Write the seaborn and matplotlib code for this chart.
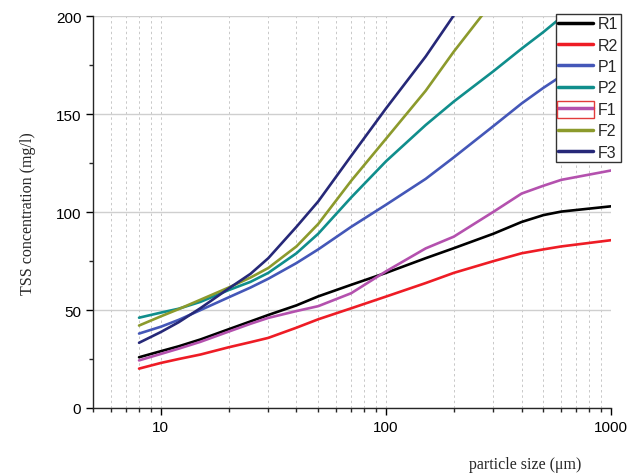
import numpy as np
import pandas as pd
import seaborn as sns
import matplotlib.pyplot as plt
from matplotlib.ticker import LogLocator, NullFormatter, MultipleLocator, FixedLocator, FixedFormatter
from matplotlib.patches import Rectangle

# particle size (um) 와 각 시료의 TSS 농도
size = [8, 10, 12, 15, 20, 25, 30, 40, 50, 70, 100, 150, 200, 300, 400, 500, 600, 1000]
R1 = [25.9, 29.0, 31.5, 35.0, 40.2, 44.2, 47.5, 52.4, 57.0, 62.9, 69.0, 76.5, 81.6, 89.0, 95.0, 98.5, 100.3, 103.0]
R2 = [20.1, 23.0, 25.0, 27.3, 31.0, 33.6, 35.8, 41.0, 45.3, 50.9, 56.9, 63.8, 69.0, 75.0, 79.0, 81.0, 82.5, 85.7]
P1 = [38.0, 41.5, 45.0, 50.0, 56.5, 61.5, 66.0, 74.0, 81.0, 92.5, 103.8, 117.0, 128.0, 144.0, 155.5, 163.5, 169.5, 182.0]
P2 = [46.1, 48.7, 50.7, 54.2, 60.2, 64.4, 69.0, 79.0, 89.0, 107.5, 126.0, 144.5, 156.5, 172.0, 183.5, 192.0, 199.5, 212.0]
F1 = [24.3, 27.6, 30.3, 33.8, 39.0, 43.0, 46.0, 49.5, 52.0, 58.6, 69.8, 81.5, 87.5, 100.2, 109.5, 113.5, 116.5, 121.3]
F2 = [42.1, 46.8, 50.5, 55.3, 61.5, 66.6, 71.5, 82.5, 94.0, 116.0, 137.5, 162.0, 182.0, 208.0, np.nan, np.nan, np.nan, np.nan]
F3 = [33.3, 38.8, 43.8, 51.0, 61.0, 68.5, 76.5, 92.5, 105.5, 128.7, 153.0, 179.5, 200.5, np.nan, np.nan, np.nan, np.nan, np.nan]

names = ['R1', 'R2', 'P1', 'P2', 'F1', 'F2', 'F3']
series = [R1, R2, P1, P2, F1, F2, F3]
colors = ['#000000', '#ee1c25', '#4457b8', '#108e8c', '#b451ae', '#8c9a2c', '#262878']

rows = []
for n, vals in zip(names, series):
    for x, v in zip(size, vals):
        if not np.isnan(v):
            rows.append({'size': x, 'tss': v, 'sample': n})
df = pd.DataFrame(rows)

sns.set_style('ticks')
plt.rcParams['font.family'] = ['Liberation Sans', 'DejaVu Sans']

fig = plt.figure(figsize=(6.42, 4.77), dpi=100)
ax = fig.add_axes([0.145, 0.1426, 0.807, 0.821])

sns.lineplot(data=df, x='size', y='tss', hue='sample', hue_order=names,
             palette=dict(zip(names, colors)), linewidth=1.9, ax=ax, zorder=3)
handles, labels = ax.get_legend_handles_labels()
ax.get_legend().remove()

ax.set_xscale('log')
ax.set_xlim(5, 1000)
ax.set_ylim(0, 200)

# x축 눈금
ax.xaxis.set_major_locator(FixedLocator([10, 100, 1000]))
ax.xaxis.set_major_formatter(FixedFormatter(['10', '100', '1000']))
ax.xaxis.set_minor_locator(LogLocator(base=10, subs=np.arange(2, 10)))
ax.xaxis.set_minor_formatter(NullFormatter())
# y축 눈금
ax.yaxis.set_major_locator(MultipleLocator(50))
ax.yaxis.set_minor_locator(MultipleLocator(25))

ax.tick_params(which='major', direction='out', length=5, width=1, labelsize=11, colors='black')
ax.tick_params(which='minor', direction='out', length=3, width=1)

# 격자
ax.grid(axis='y', which='major', color='#cfcfcf', linewidth=1.0, linestyle='-', zorder=0)
ax.grid(axis='x', which='both', color='#c8c8c8', linewidth=0.7, linestyle=(0, (2.5, 3)), zorder=0)
ax.set_axisbelow(True)

ax.spines['top'].set_visible(False)
ax.spines['right'].set_visible(False)
ax.spines['left'].set_linewidth(1.0)
ax.spines['bottom'].set_linewidth(1.0)

ax.set_xlabel('')
ax.set_ylabel('TSS concentration (mg/l)', family=['Liberation Serif', 'DejaVu Serif'], fontsize=11.5, labelpad=14)
fig.text(0.818, 0.008, 'particle size (\u03bcm)', family=['Liberation Serif', 'DejaVu Serif'],
         fontsize=11.5, ha='center', va='bottom')

# 범례
leg = fig.legend(handles, labels, loc='upper left', bbox_to_anchor=(0.8655, 0.969),
                 frameon=True, fancybox=False, edgecolor='#333333', framealpha=1,
                 fontsize=11.5, handlelength=2.2, handletextpad=0.3, labelspacing=0.4,
                 borderpad=0.15, borderaxespad=0.0)
leg.get_frame().set_linewidth(1.0)
for h in leg.legend_handles:
    h.set_linewidth(2.5)

# F1 범례 항목 주위의 빨간 상자
fig.canvas.draw()
bb = leg.legend_handles[4].get_window_extent(fig.canvas.get_renderer())
tb = leg.get_texts()[4].get_window_extent(fig.canvas.get_renderer())
inv = fig.transFigure.inverted()
x0, y0 = inv.transform((bb.x0 - 1, tb.y0 - 1))
x1, y1 = inv.transform((bb.x1 + 1, tb.y1 + 1))
fig.patches.append(Rectangle((x0, y0), x1 - x0, y1 - y0, transform=fig.transFigure,
                             fill=False, edgecolor='#e23b3b', linewidth=1.0, zorder=10))

plt.savefig('out.png', dpi=100)
